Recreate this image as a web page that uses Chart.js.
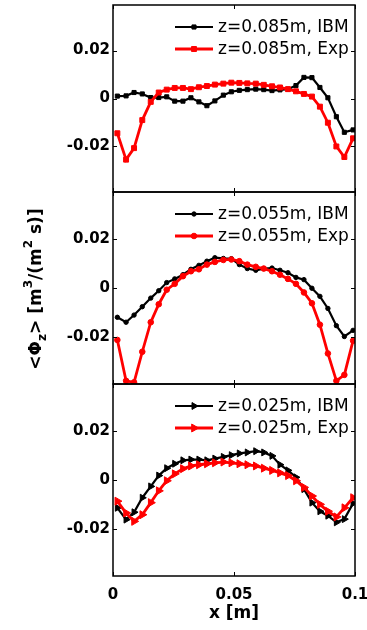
<!DOCTYPE html>
<html><head><meta charset="utf-8">
<script src="https://cdn.jsdelivr.net/npm/chart.js@4"></script>
<style>
html,body{margin:0;padding:0;background:#fff;}
#wrap{position:relative;width:367px;height:630px;background:#fff;}
canvas{position:absolute;left:0;top:0;}
</style></head><body>
<div id="wrap">
<canvas id="c1" width="367" height="630"></canvas>
<canvas id="c2" width="367" height="630"></canvas>
<canvas id="c3" width="367" height="630"></canvas>
</div>
<script>
// x positions [m]
const xVals = [0.0018,0.0054,0.0087,0.0121,0.0156,0.0189,0.0222,0.0255,0.0289,0.0322,0.0355,0.0388,0.0421,0.0456,0.0489,0.0522,0.0555,0.0590,0.0623,0.0657,0.0690,0.0723,0.0756,0.0789,0.0822,0.0855,0.0888,0.0923,0.0956,0.0992];
// z = 0.085 m
const ibm085 = [0.0010,0.0011,0.0025,0.0019,0.0004,0.0004,0.0007,-0.0011,-0.0011,0.0003,-0.0014,-0.0030,-0.0010,0.0014,0.0028,0.0034,0.0037,0.0039,0.0037,0.0033,0.0036,0.0039,0.0054,0.0088,0.0087,0.0046,0.0003,-0.0076,-0.0141,-0.0131];
const exp085 = [-0.0145,-0.0255,-0.0207,-0.0090,-0.0014,0.0025,0.0037,0.0044,0.0044,0.0039,0.0047,0.0052,0.0058,0.0062,0.0066,0.0065,0.0063,0.0062,0.0057,0.0051,0.0046,0.0039,0.0030,0.0019,0.0008,-0.0034,-0.0101,-0.0200,-0.0244,-0.0166];
// z = 0.055 m
const ibm055 = [-0.0119,-0.0139,-0.0110,-0.0076,-0.0041,-0.0011,0.0022,0.0037,0.0054,0.0076,0.0092,0.0109,0.0123,0.0120,0.0119,0.0095,0.0079,0.0072,0.0079,0.0081,0.0072,0.0062,0.0043,0.0034,-0.0001,-0.0034,-0.0083,-0.0153,-0.0197,-0.0172];
const exp055 = [-0.0211,-0.0377,-0.0383,-0.0259,-0.0139,-0.0066,-0.0007,0.0017,0.0048,0.0068,0.0076,0.0095,0.0106,0.0114,0.0116,0.0109,0.0095,0.0086,0.0079,0.0068,0.0054,0.0037,0.0017,-0.0018,-0.0062,-0.0149,-0.0266,-0.0377,-0.0353,-0.0214];
// z = 0.025 m
const ibm025 = [-0.0113,-0.0161,-0.0131,-0.0072,-0.0026,0.0018,0.0048,0.0066,0.0080,0.0083,0.0083,0.0080,0.0087,0.0094,0.0101,0.0108,0.0112,0.0117,0.0112,0.0098,0.0062,0.0039,0.0011,-0.0037,-0.0092,-0.0127,-0.0145,-0.0172,-0.0159,-0.0095];
const exp025 = [-0.0086,-0.0134,-0.0168,-0.0141,-0.0092,-0.0044,-0.0003,0.0025,0.0046,0.0057,0.0062,0.0066,0.0070,0.0073,0.0070,0.0066,0.0062,0.0057,0.0048,0.0039,0.0029,0.0018,-0.0003,-0.0030,-0.0065,-0.0099,-0.0127,-0.0150,-0.0113,-0.0072];

const seriesLabels = [
  ['z=0.085m, IBM','z=0.085m, Exp'],
  ['z=0.055m, IBM','z=0.055m, Exp'],
  ['z=0.025m, IBM','z=0.025m, Exp']
];
const xTicks = [0, 0.05, 0.1];
const xTickLabels = ['0','0.05','0.1'];
const yTicks = [-0.02, 0, 0.02];
const yTickLabels = ['-0.02','0','0.02'];
const xTitle = 'x [m]';
const yTitleParts = [['<\u03A6',0],['z',1],['>',0],[' [m',0],['3',2],['/(m',0],['2',2],[' s)]',0]];

const W = 367, H = 630;
const LEFT = 113, RIGHT = 355;

function pts(ys){ return xVals.map((x,i)=>({x:x, y:ys[i]})); }

const framePlugin = {
  id:'frame',
  afterDraw(chart, args, opts){
    const ctx = chart.ctx, a = chart.chartArea;
    const xs = chart.scales.x, ys = chart.scales.y;
    ctx.save();
    ctx.strokeStyle = '#000';
    ctx.lineWidth = 1.5;
    ctx.strokeRect(a.left, a.top, a.right - a.left, a.bottom - a.top);
    ctx.lineWidth = 1;
    const tl = 4;
    ctx.beginPath();
    yTicks.forEach(v=>{
      const y = Math.round(ys.getPixelForValue(v)) + 0.5;
      ctx.moveTo(a.left, y); ctx.lineTo(a.left + tl, y);
      ctx.moveTo(a.right, y); ctx.lineTo(a.right - tl, y);
    });
    xTicks.forEach(v=>{
      const x = Math.round(xs.getPixelForValue(v)) + 0.5;
      ctx.moveTo(x, a.top); ctx.lineTo(x, a.top + tl);
      ctx.moveTo(x, a.bottom); ctx.lineTo(x, a.bottom - tl);
    });
    ctx.stroke();
    // legend
    const rows = [a.top + 22, a.top + 44];
    [0,1].forEach((di, r)=>{
      const ds = chart.data.datasets[di];
      const y = rows[r];
      ctx.strokeStyle = ds.borderColor;
      ctx.lineWidth = ds.borderWidth;
      ctx.beginPath(); ctx.moveTo(175, y); ctx.lineTo(213, y); ctx.stroke();
      ctx.fillStyle = ds.borderColor;
      ctx.lineWidth = 1;
      Chart.helpers.drawPoint(ctx, {pointStyle: ds.pointStyle, rotation: ds.pointRotation||0, radius: ds.pointRadius, borderWidth: 1}, 194, y);
      ctx.fillStyle = '#000';
      ctx.font = '17px "DejaVu Sans"';
      ctx.textAlign = 'left'; ctx.textBaseline = 'middle';
      ctx.fillText(ds.label, 218, y + 1);
    });
    // y title
    if (opts && opts.yTitle) {
      ctx.save();
      ctx.translate(41, 289);
      ctx.rotate(-Math.PI/2);
      ctx.fillStyle = '#000';
      ctx.textBaseline = 'alphabetic';
      ctx.textAlign = 'left';
      const big = 'bold 17px "DejaVu Sans"', small = 'bold 12px "DejaVu Sans"';
      let total = 0;
      yTitleParts.forEach(p=>{ ctx.font = p[1] ? small : big; total += ctx.measureText(p[0]).width; });
      let u = -total/2;
      yTitleParts.forEach(p=>{
        ctx.font = p[1] ? small : big;
        const dv = p[1] === 1 ? 5 : (p[1] === 2 ? -9 : 0);
        ctx.fillText(p[0], u, dv);
        u += ctx.measureText(p[0]).width;
      });
      ctx.restore();
    }
    ctx.restore();
  }
};

function makePanel(id, top, bottom, ibm, exp, labels, style, rB, rR, rot, isBottom, yTitle){
  const ctx = document.getElementById(id);
  return new Chart(ctx, {
    type:'line',
    data:{ datasets:[
      {label:labels[0], data:pts(ibm), borderColor:'#000000', backgroundColor:'#000000', borderWidth:2.2,
       pointStyle:style, pointRadius:rB, pointRotation:rot, pointBorderWidth:1, pointBackgroundColor:'#000000', pointBorderColor:'#000000', order:1, tension:0},
      {label:labels[1], data:pts(exp), borderColor:'#ff0000', backgroundColor:'#ff0000', borderWidth:2.8,
       pointStyle:style, pointRadius:rR, pointRotation:rot, pointBorderWidth:1, pointBackgroundColor:'#ff0000', pointBorderColor:'#ff0000', order:0, tension:0}
    ]},
    options:{
      responsive:false, animation:false, devicePixelRatio:1,
      layout:{padding:{top:top, bottom: isBottom ? 0 : H - bottom, left:0, right: W - RIGHT}},
      plugins:{legend:{display:false}, tooltip:{enabled:false}, frame:{yTitle:yTitle}},
      scales:{
        x:{type:'linear', min:0, max:0.1, display:isBottom,
           grid:{display:false, drawTicks:false}, border:{display:false},
           afterBuildTicks:(s)=>{ s.ticks = xTicks.map(v=>({value:v})); },
           afterFit:(s)=>{ if (isBottom) s.height = H - bottom; s.paddingLeft = 0; s.paddingRight = 0; },
           ticks:{color:'#000', font:{family:'DejaVu Sans', size:15, weight:'bold'}, padding:10, maxRotation:0, autoSkip:false,
                  callback:(v)=>{ const i = xTicks.indexOf(v); return i >= 0 ? xTickLabels[i] : ''; }},
           title:{display:isBottom, text:xTitle, color:'#000', font:{family:'DejaVu Sans', size:17, weight:'bold'}, padding:{top:0, bottom:6}}
        },
        y:{type:'linear', position:'left', min:-0.039, max:0.039,
           grid:{display:false, drawTicks:false}, border:{display:false},
           afterBuildTicks:(s)=>{ s.ticks = yTicks.map(v=>({value:v})); },
           afterFit:(s)=>{ s.width = LEFT; s.paddingTop = 0; s.paddingBottom = 0; },
           ticks:{color:'#000', font:{family:'DejaVu Sans', size:15, weight:'bold'}, padding:3, autoSkip:false,
                  callback:(v)=>{ const i = yTicks.indexOf(v); return i >= 0 ? yTickLabels[i] : ''; }}
        }
      }
    },
    plugins:[framePlugin]
  });
}

makePanel('c1', 2, 192, ibm085, exp085, seriesLabels[0], 'rect', 2.9, 3.5, 0, false, false);
makePanel('c2', 192, 384, ibm055, exp055, seriesLabels[1], 'circle', 2.2, 2.8, 0, false, true);
makePanel('c3', 384, 576, ibm025, exp025, seriesLabels[2], 'triangle', 4, 4.6, 90, true, false);
</script>
</body></html>
